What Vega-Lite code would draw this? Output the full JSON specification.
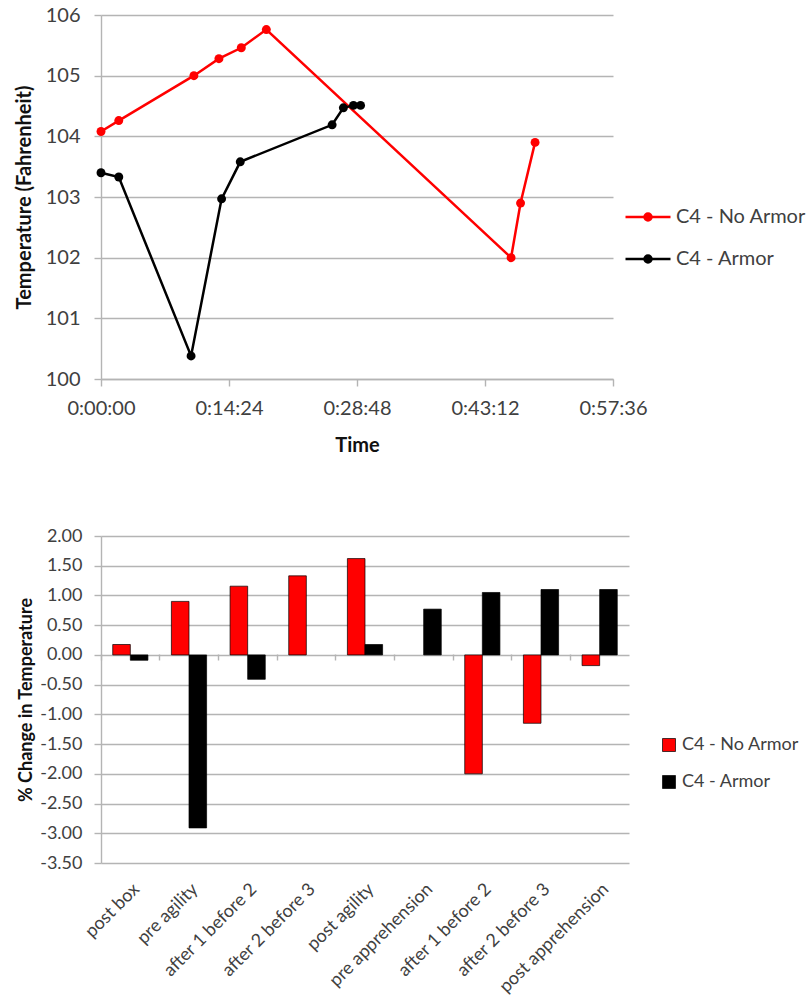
{
  "$schema": "https://vega.github.io/schema/vega-lite/v6.json",
  "padding": {"left": 14, "top": 5, "right": 0, "bottom": 0},
  "background": "#ffffff",
  "spacing": 157,
  "bounds": "flush",
  "resolve": {"scale": {"color": "independent"}, "legend": {"color": "independent"}},
  "config": {
    "font": "Lato",
    "view": {"stroke": null},
    "axis": {
      "gridColor": "#b4b4b4", "gridWidth": 1.4,
      "domainColor": "#b4b4b4", "domainWidth": 1.4,
      "tickColor": "#b4b4b4", "tickWidth": 1.4, "tickSize": 7,
      "labelColor": "#404040", "titleColor": "#111111", "titleFontWeight": "bold",
      "labelOverlap": false
    },
    "legend": {"labelColor": "#404040", "title": null}
  },
  "vconcat": [
    {
      "width": 512,
      "height": 364,
      "data": {"values": [
        {"series": "C4 - No Armor", "seconds": 0, "temp": 104.08},
        {"series": "C4 - No Armor", "seconds": 120, "temp": 104.26},
        {"series": "C4 - No Armor", "seconds": 627, "temp": 105.0},
        {"series": "C4 - No Armor", "seconds": 796, "temp": 105.28},
        {"series": "C4 - No Armor", "seconds": 947, "temp": 105.46},
        {"series": "C4 - No Armor", "seconds": 1116, "temp": 105.76},
        {"series": "C4 - No Armor", "seconds": 2768, "temp": 102.0},
        {"series": "C4 - No Armor", "seconds": 2832, "temp": 102.9},
        {"series": "C4 - No Armor", "seconds": 2930, "temp": 103.9},
        {"series": "C4 - Armor", "seconds": 0, "temp": 103.4},
        {"series": "C4 - Armor", "seconds": 120, "temp": 103.33},
        {"series": "C4 - Armor", "seconds": 608, "temp": 100.38},
        {"series": "C4 - Armor", "seconds": 814, "temp": 102.97},
        {"series": "C4 - Armor", "seconds": 940, "temp": 103.58},
        {"series": "C4 - Armor", "seconds": 1560, "temp": 104.19},
        {"series": "C4 - Armor", "seconds": 1636, "temp": 104.47},
        {"series": "C4 - Armor", "seconds": 1704, "temp": 104.51},
        {"series": "C4 - Armor", "seconds": 1752, "temp": 104.51}
      ]},
      "mark": {"type": "line", "strokeWidth": 2.5, "point": {"filled": true, "size": 80}},
      "encoding": {
        "x": {
          "field": "seconds", "type": "quantitative",
          "scale": {"domain": [0, 3456], "nice": false, "zero": false},
          "axis": {
            "values": [0, 864, 1728, 2592, 3456],
            "labelExpr": "utcFormat(datum.value * 1000, '%-H:%M:%S')",
            "grid": false, "title": "Time",
            "labelFontSize": 20, "titleFontSize": 20,
            "labelPadding": 12, "titlePadding": 17, "labelFlush": false
          }
        },
        "y": {
          "field": "temp", "type": "quantitative",
          "scale": {"domain": [100, 106], "nice": false, "zero": false},
          "axis": {
            "values": [100, 101, 102, 103, 104, 105, 106], "format": "d",
            "title": "Temperature (Fahrenheit)",
            "labelFontSize": 20, "titleFontSize": 20,
            "labelPadding": 14, "titlePadding": 11
          }
        },
        "color": {
          "field": "series", "type": "nominal",
          "scale": {"domain": ["C4 - No Armor", "C4 - Armor"], "range": ["#ff0000", "#000000"]},
          "legend": {
            "orient": "none", "legendX": 523, "legendY": 178,
            "symbolType": "M-1,0H1M-0.156,0A0.156,0.156,0,1,1,0.156,0A0.156,0.156,0,1,1,-0.156,0M-0.067,0A0.067,0.067,0,1,1,0.067,0A0.067,0.067,0,1,1,-0.067,0",
            "symbolSize": 2025, "symbolStrokeWidth": 2.5,
            "labelFontSize": 20, "labelOffset": 4, "rowPadding": 8
          }
        }
      }
    },
    {
      "width": 528,
      "height": 327,
      "data": {"values": [
        {"phase": "post box", "series": "C4 - No Armor", "pct": 0.175},
        {"phase": "post box", "series": "C4 - Armor", "pct": -0.09},
        {"phase": "pre agility", "series": "C4 - No Armor", "pct": 0.9},
        {"phase": "pre agility", "series": "C4 - Armor", "pct": -2.91},
        {"phase": "after 1 before 2", "series": "C4 - No Armor", "pct": 1.156},
        {"phase": "after 1 before 2", "series": "C4 - Armor", "pct": -0.41},
        {"phase": "after 2 before 3", "series": "C4 - No Armor", "pct": 1.33},
        {"phase": "post agility", "series": "C4 - No Armor", "pct": 1.62},
        {"phase": "post agility", "series": "C4 - Armor", "pct": 0.175},
        {"phase": "pre apprehension", "series": "C4 - Armor", "pct": 0.77},
        {"phase": "after 1 before 2 (2)", "series": "C4 - No Armor", "pct": -2.0},
        {"phase": "after 1 before 2 (2)", "series": "C4 - Armor", "pct": 1.05},
        {"phase": "after 2 before 3 (2)", "series": "C4 - No Armor", "pct": -1.15},
        {"phase": "after 2 before 3 (2)", "series": "C4 - Armor", "pct": 1.1},
        {"phase": "post apprehension", "series": "C4 - No Armor", "pct": -0.18},
        {"phase": "post apprehension", "series": "C4 - Armor", "pct": 1.1}
      ]},
      "resolve": {"axis": {"x": "independent"}},
      "layer": [
        {
          "mark": {"type": "bar", "stroke": "#000000", "strokeWidth": 0.7},
          "encoding": {
            "x": {
              "field": "phase", "type": "nominal",
              "sort": ["post box", "pre agility", "after 1 before 2", "after 2 before 3", "post agility", "pre apprehension", "after 1 before 2 (2)", "after 2 before 3 (2)", "post apprehension"],
              "scale": {"paddingInner": 0.4, "paddingOuter": 0.2},
              "axis": {
                "labelAngle": -45, "title": null, "domain": false, "ticks": false,
                "labelExpr": "replace(datum.label, ' (2)', '')",
                "labelFontSize": 18, "labelPadding": 17
              }
            },
            "xOffset": {"field": "series", "type": "nominal", "sort": ["C4 - No Armor", "C4 - Armor"]},
            "y": {
              "field": "pct", "type": "quantitative",
              "scale": {"domain": [-3.5, 2], "nice": false},
              "axis": {
                "values": [-3.5, -3, -2.5, -2, -1.5, -1, -0.5, 0, 0.5, 1, 1.5, 2], "tickCount": 20,
                "labelExpr": "replace(format(datum.value, '.2f'), '\u2212', '-')",
                "title": "% Change in Temperature",
                "labelFontSize": 18, "titleFontSize": 18,
                "labelPadding": 12, "titlePadding": 4
              }
            },
            "color": {
              "field": "series", "type": "nominal",
              "scale": {"domain": ["C4 - No Armor", "C4 - Armor"], "range": ["#ff0000", "#000000"]},
              "legend": {
                "orient": "none", "legendX": 559, "legendY": 200,
                "symbolType": "square", "symbolSize": 169,
                "symbolStrokeColor": "#000000", "symbolStrokeWidth": 0.7,
                "labelFontSize": 18, "labelOffset": 4, "rowPadding": 19
              }
            }
          }
        },
        {
          "mark": {"type": "rule", "opacity": 0},
          "encoding": {
            "x": {
              "field": "phase", "type": "nominal",
              "sort": ["post box", "pre agility", "after 1 before 2", "after 2 before 3", "post agility", "pre apprehension", "after 1 before 2 (2)", "after 2 before 3 (2)", "post apprehension"],
              "axis": {
                "orient": "top", "offset": -118, "labels": false, "domain": false,
                "ticks": true, "tickSize": -6, "bandPosition": -0.3333, "title": null, "grid": false
              }
            },
            "y": {"datum": 0}
          }
        }
      ]
    }
  ]
}
